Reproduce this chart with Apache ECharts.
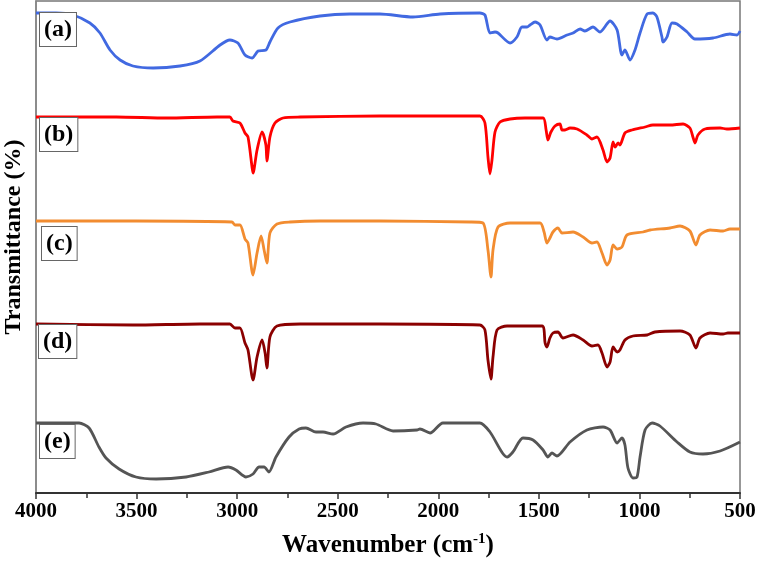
<!DOCTYPE html>
<html>
<head>
<meta charset="utf-8">
<script src="https://cdn.jsdelivr.net/npm/echarts@6/dist/echarts.min.js"></script>
<style>
  html, body { margin: 0; padding: 0; background: #fff; }
  #chart { width: 757px; height: 565px; }
</style>
</head>
<body>
<div id="chart"></div>
<script>
// FTIR spectra, [wavenumber (cm-1), transmittance (offset, a.u.)]
const specA = [[4000,480],[3900,480],[3816,478],[3732,470],[3682,460],[3632,443],[3582,433],[3518,427],[3418,425],[3284,427],[3185,432],[3085,448],[3036,453],[2996,450],[2961,438],[2926,435],[2896,442],[2857,443],[2837,451],[2797,465],[2737,471],[2588,477],[2439,479],[2290,479],[2126,476],[1991,479],[1793,480],[1768,478],[1743,460],[1718,461],[1703,460],[1643,450],[1609,456],[1584,466],[1559,466],[1544,468],[1519,471],[1494,468],[1460,453],[1445,456],[1410,454],[1360,458],[1330,460],[1295,464],[1271,462],[1231,466],[1196,461],[1146,472],[1111,463],[1087,438],[1072,443],[1047,433],[1022,443],[997,460],[962,479],[933,480],[913,476],[888,456],[883,451],[863,456],[838,470],[813,469],[763,461],[724,454],[634,455],[550,459],[515,458],[500,462]];

const specB = [[4000,376],[3600,376],[3350,375],[3100,376],[3036,376],[3021,372],[2986,370],[2961,360],[2946,356],[2926,326],[2921,320],[2901,343],[2876,361],[2857,348],[2852,332],[2837,356],[2812,370],[2772,375],[2687,376],[2290,377],[1793,377],[1768,370],[1753,336],[1743,319],[1733,333],[1718,361],[1693,371],[1643,374],[1569,375],[1479,375],[1464,363],[1455,353],[1440,361],[1420,367],[1395,369],[1385,363],[1370,363],[1345,365],[1310,364],[1261,358],[1236,354],[1211,356],[1181,343],[1161,331],[1146,335],[1131,351],[1121,346],[1106,350],[1097,348],[1072,360],[1037,363],[972,366],[933,368],[848,368],[783,369],[749,365],[734,356],[724,350],[709,358],[674,364],[599,365],[565,364],[500,365]];

const specC = [[4000,272],[3500,272],[3026,271],[3011,268],[2986,268],[2961,254],[2946,250],[2921,218],[2901,240],[2881,257],[2866,243],[2852,230],[2837,260],[2802,269],[2737,271],[2588,272],[2290,272],[1842,271],[1778,270],[1753,243],[1738,216],[1728,243],[1703,266],[1643,270],[1494,270],[1474,261],[1460,250],[1445,255],[1430,261],[1405,265],[1385,260],[1330,261],[1280,256],[1236,250],[1211,251],[1186,240],[1161,228],[1146,233],[1131,248],[1111,244],[1087,246],[1062,258],[982,261],[947,263],[848,265],[798,267],[749,262],[719,248],[699,258],[649,263],[584,262],[550,264],[500,264]];

const specD = [[4000,169],[3518,168],[3185,169],[3036,169],[3011,165],[2986,165],[2961,150],[2946,143],[2921,113],[2901,136],[2876,153],[2861,140],[2852,125],[2837,156],[2802,167],[2687,169],[2290,169],[1793,168],[1768,163],[1753,133],[1738,114],[1728,136],[1708,163],[1658,167],[1484,167],[1469,150],[1460,146],[1445,155],[1430,160],[1405,161],[1380,155],[1330,158],[1280,153],[1236,147],[1206,148],[1186,140],[1161,126],[1146,131],[1131,146],[1111,141],[1097,143],[1072,153],[1032,157],[962,158],[923,161],[798,162],[749,158],[719,145],[699,155],[649,160],[584,159],[560,160],[500,160]];

const specE = [[4000,70],[3786,70],[3736,65],[3687,46],[3652,35],[3587,24],[3503,16],[3403,14],[3254,16],[3140,21],[3045,26],[3006,23],[2956,16],[2921,19],[2891,26],[2866,26],[2842,21],[2807,36],[2742,56],[2692,64],[2658,65],[2608,61],[2573,61],[2523,59],[2459,66],[2374,70],[2310,69],[2225,62],[2106,63],[2091,64],[2041,60],[1977,70],[1793,70],[1743,61],[1658,36],[1629,41],[1579,55],[1529,53],[1479,43],[1455,36],[1435,40],[1410,37],[1345,51],[1261,63],[1181,66],[1146,63],[1111,50],[1087,55],[1072,48],[1057,25],[1032,15],[1012,16],[997,36],[972,63],[937,70],[898,67],[813,51],[749,41],[684,39],[599,42],[500,51]];

const sampleLabels = ['(a)', '(b)', '(c)', '(d)', '(e)'];
const spectra = [specA, specB, specC, specD, specE];

// styles / layout (kept separate from data)
const colors = ['#4169E1', '#FF0000', '#F28C30', '#8B0000', '#555555'];
const labelBoxes = [[40, 13], [40, 118], [42, 227], [39, 325], [40, 425]];
const serif = '"Liberation Serif", "Times New Roman", serif';

const chart = echarts.init(document.getElementById('chart'), null, { renderer: 'canvas' });

const option = {
  backgroundColor: '#ffffff',
  animation: false,
  grid: {
    left: 36, right: 17, top: 1, bottom: 72,
    containLabel: false,
    outerBoundsMode: 'none',
    show: true, borderColor: '#777', borderWidth: 1.5, backgroundColor: 'transparent'
  },
  xAxis: {
    type: 'value',
    inverse: true,
    min: 500, max: 4000, interval: 500,
    name: 'Wavenumber (cm{sup|-1})',
    nameLocation: 'middle',
    nameGap: 39,
    nameTextStyle: {
      fontFamily: serif, fontWeight: 'bold', fontSize: 25, color: '#000',
      rich: {
        sup: { fontFamily: serif, fontWeight: 'bold', fontSize: 15, color: '#000', verticalAlign: 'top', padding: [0, 0, 12, 0] }
      }
    },
    axisLine: { show: true, lineStyle: { color: '#333', width: 2 } },
    axisTick: { show: true, inside: false, length: 6, lineStyle: { color: '#333', width: 1.5 } },
    minorTick: { show: true, splitNumber: 2, length: 5, lineStyle: { color: '#333', width: 1.5 } },
    axisLabel: {
      fontFamily: serif, fontWeight: 'bold', fontSize: 21, color: '#000', margin: 8,
      formatter: v => String(v)
    },
    splitLine: { show: false }
  },
  yAxis: {
    type: 'value',
    min: 0, max: 492,
    name: 'Transmittance (%)',
    nameLocation: 'middle',
    nameGap: 10,
    nameTextStyle: { fontFamily: serif, fontWeight: 'bold', fontSize: 24, color: '#000', padding: [0, 0, 0, 20] },
    axisLine: { show: true, lineStyle: { color: '#888', width: 1.5 } },
    axisTick: { show: false },
    axisLabel: { show: false },
    splitLine: { show: false }
  },
  series: spectra.map((d, i) => ({
    name: sampleLabels[i],
    type: 'line',
    data: d,
    showSymbol: false,
    smooth: 0.25,
    lineStyle: { color: colors[i], width: 2.8 },
    z: 2
  })),
  graphic: sampleLabels.map((t, i) => ({
    type: 'text',
    x: labelBoxes[i][0],
    y: labelBoxes[i][1],
    z: 100,
    style: {
      text: t,
      font: 'bold 24px ' + serif,
      fill: '#000',
      backgroundColor: '#fff',
      borderColor: '#666',
      borderWidth: 1,
      padding: [5, 4, 4, 4],
      textAlign: 'left',
      textVerticalAlign: 'top'
    }
  }))
};

chart.setOption(option);
</script>
</body>
</html>
